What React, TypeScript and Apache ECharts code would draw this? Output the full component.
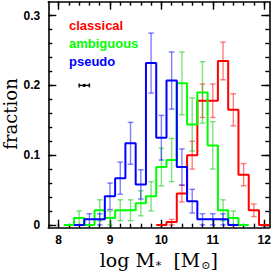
import React, { useEffect, useRef } from "react";
import * as echarts from "echarts";

// ---- data ----
const classicalBins = [10.0, 10.2, 10.4, 10.6, 10.8, 11.0, 11.2, 11.4, 11.6, 11.8, 12.0];
const classicalFrac = [0, 0.004, 0.045, 0.100, 0.178, 0.178, 0.235, 0.165, 0.072, 0.021, 0];
const classicalErr = [0, 0.004, 0.012, 0.020, 0.024, 0.024, 0.027, 0.023, 0.016, 0.009, 0];

const ambiguousBins = [8.2, 8.4, 8.6, 8.8, 9.0, 9.2, 9.4, 9.6, 9.8, 10.0, 10.2, 10.4, 10.6, 10.8, 11.0, 11.2, 11.4, 11.6];
const ambiguousFrac = [0, 0.010, 0, 0.021, 0.010, 0.021, 0.021, 0.031, 0.041, 0.083, 0.093, 0.203, 0.144, 0.190, 0.114, 0.021, 0.010, 0];
const ambiguousErr = [0, 0.010, 0, 0.015, 0.010, 0.015, 0.015, 0.018, 0.021, 0.027, 0.031, 0.045, 0.038, 0.044, 0.034, 0.015, 0.010, 0];

const pseudoBins = [8.4, 8.6, 8.8, 9.0, 9.2, 9.4, 9.6, 9.8, 10.0, 10.2, 10.4, 10.6, 10.8, 11.0, 11.2, 11.4];
const pseudoFrac = [0, 0.008, 0.008, 0.041, 0.067, 0.117, 0.058, 0.232, 0.125, 0.207, 0.083, 0.034, 0.008, 0.008, 0.008, 0];
const pseudoErr = [0, 0.008, 0.008, 0.019, 0.023, 0.030, 0.021, 0.043, 0.032, 0.041, 0.026, 0.017, 0.008, 0.008, 0.008, 0];

// typical mass uncertainty marker
const massErrX = [8.5];
const massErrY = [0.2];
const massErrDx = [0.1];

const legendLabels = ["classical", "ambiguous", "pseudo"];
const legendColors = ["#ff0000", "#00ff00", "#0000ff"];
const yTitle = "fraction";

const xMajorTicks = [8, 9, 10, 11, 12];
const xMinorTicks = [8.0, 8.2, 8.4, 8.6, 8.8, 9.0, 9.2, 9.4, 9.6, 9.8, 10.0, 10.2, 10.4, 10.6, 10.8, 11.0, 11.2, 11.4, 11.6, 11.8, 12.0];
const yMajorTicks = [0, 0.1, 0.2, 0.3];
const yMinorTicks = [0, 0.02, 0.04, 0.06, 0.08, 0.1, 0.12, 0.14, 0.16, 0.18, 0.2, 0.22, 0.24, 0.26, 0.28, 0.3];

const X_MIN = 7.8;
const X_MAX = 12.1;
const Y_MIN = -0.004;
const Y_MAX = 0.32;
const BIN_HALF = 0.1;

function stepData(centers: number[], vals: number[]) {
  const pts = centers.map((c, i) => [+(c - BIN_HALF).toFixed(3), vals[i]]);
  pts.push([+(centers[centers.length - 1] + BIN_HALF).toFixed(3), vals[vals.length - 1]]);
  return pts;
}

function stepSeries(centers: number[], vals: number[], color: string) {
  return {
    type: "line",
    xAxisIndex: 0,
    yAxisIndex: 0,
    step: "end",
    symbol: "none",
    data: stepData(centers, vals),
    lineStyle: { color, width: 2 },
    z: 5,
    silent: true,
  };
}

function errSeries(centers: number[], vals: number[], errs: number[], color: string) {
  return {
    type: "custom",
    xAxisIndex: 0,
    yAxisIndex: 0,
    data: centers.map((c, i) => [c, vals[i], errs[i]]),
    encode: { x: 0, y: 1 },
    z: 3,
    silent: true,
    renderItem: (params: any, api: any) => {
      const x = api.value(0);
      const y = api.value(1);
      const e = api.value(2);
      if (!e) return { type: "group", children: [] };
      const t = api.coord([x, y + e]);
      const b = api.coord([x, y - e]);
      const cw = 2.8;
      const st = { stroke: color, lineWidth: 1.4 };
      return {
        type: "group",
        children: [
          { type: "line", shape: { x1: t[0], y1: t[1], x2: b[0], y2: b[1] }, style: st },
          { type: "line", shape: { x1: t[0] - cw, y1: t[1], x2: t[0] + cw, y2: t[1] }, style: st },
          { type: "line", shape: { x1: b[0] - cw, y1: b[1], x2: b[0] + cw, y2: b[1] }, style: st },
        ],
      };
    },
  };
}

const GRID = { left: 48.3, top: 1.7, right: 3.7, bottom: 45.3, containLabel: false, outerBoundsMode: "none" };
const axisLineStyle = { color: "#000", width: 1.6 };
const tickStyle = { color: "#000", width: 1.4 };
const labelFont = { color: "#000", fontWeight: "bold" as const, fontSize: 12, fontFamily: "Liberation Sans" };

function xAxis(grid: number, pos: string, ticks: number[], len: number, labels: boolean, extra: any = {}) {
  return {
    type: "value",
    gridIndex: grid,
    position: pos,
    min: X_MIN,
    max: X_MAX,
    axisLine: { show: grid === 0, onZero: false, lineStyle: axisLineStyle },
    axisTick: { show: true, inside: true, length: len, customValues: ticks, lineStyle: tickStyle },
    axisLabel: labels ? { show: true, customValues: xMajorTicks, margin: 6, ...labelFont } : { show: false },
    splitLine: { show: false },
    ...extra,
  };
}

function yAxis(grid: number, pos: string, ticks: number[], len: number, labels: boolean, extra: any = {}) {
  return {
    type: "value",
    gridIndex: grid,
    position: pos,
    min: Y_MIN,
    max: Y_MAX,
    axisLine: { show: grid === 0, onZero: false, lineStyle: axisLineStyle },
    axisTick: { show: true, inside: true, length: len, customValues: ticks, lineStyle: tickStyle },
    axisLabel: labels ? { show: true, customValues: yMajorTicks, margin: 8, ...labelFont } : { show: false },
    splitLine: { show: false },
    ...extra,
  };
}

export default function App() {
  const ref = useRef<HTMLDivElement>(null);
  useEffect(() => {
    if (!ref.current) return;
    const chart = echarts.init(ref.current, undefined, { renderer: "svg" });
    const option: any = {
      animation: false,
      backgroundColor: "#fff",
      grid: [{ ...GRID }, { ...GRID }],
      xAxis: [
        xAxis(0, "bottom", xMajorTicks, 8, true, {
          name: "log M{s|*}  [M{s|⊙}]",
          nameLocation: "middle",
          nameGap: 19,
          nameTextStyle: {
            fontFamily: "DejaVu Serif",
            fontSize: 19,
            color: "#000",
            verticalAlign: "top",
            rich: {
              s: { fontFamily: "DejaVu Serif", fontSize: 11, color: "#000", verticalAlign: "top", padding: [11, 0, 0, 1] },
            },
          },
        }),
        xAxis(0, "top", xMajorTicks, 8, false),
        xAxis(1, "bottom", xMinorTicks, 4, false),
        xAxis(1, "top", xMinorTicks, 4, false),
      ],
      yAxis: [
        yAxis(0, "left", yMajorTicks, 8, true),
        yAxis(0, "right", yMajorTicks, 8, false),
        yAxis(1, "left", yMinorTicks, 4, false),
        yAxis(1, "right", yMinorTicks, 4, false),
      ],
      series: [
        errSeries(classicalBins, classicalFrac, classicalErr, "rgba(255,0,0,0.5)"),
        errSeries(ambiguousBins, ambiguousFrac, ambiguousErr, "rgba(0,200,0,0.5)"),
        errSeries(pseudoBins, pseudoFrac, pseudoErr, "rgba(0,0,255,0.5)"),
        stepSeries(classicalBins, classicalFrac, "#ff0000"),
        stepSeries(ambiguousBins, ambiguousFrac, "#00ff00"),
        stepSeries(pseudoBins, pseudoFrac, "#0000ff"),
        {
          type: "custom",
          xAxisIndex: 0,
          yAxisIndex: 0,
          data: massErrX.map((x, i) => [x, massErrY[i], massErrDx[i]]),
          encode: { x: 0, y: 1 },
          z: 6,
          silent: true,
          renderItem: (params: any, api: any) => {
            const x = api.value(0);
            const y = api.value(1);
            const d = api.value(2);
            const l = api.coord([x - d, y]);
            const r = api.coord([x + d, y]);
            const c = api.coord([x, y]);
            const ch = 2;
            const st = { stroke: "#000", lineWidth: 1.4 };
            return {
              type: "group",
              children: [
                { type: "line", shape: { x1: l[0], y1: l[1], x2: r[0], y2: r[1] }, style: st },
                { type: "line", shape: { x1: l[0], y1: l[1] - ch, x2: l[0], y2: l[1] + ch }, style: st },
                { type: "line", shape: { x1: r[0], y1: r[1] - ch, x2: r[0], y2: r[1] + ch }, style: st },
                { type: "circle", shape: { cx: c[0], cy: c[1], r: 1.6 }, style: { fill: "#000" } },
              ],
            };
          },
        },
      ],
      graphic: [
        ...legendLabels.map((t, i) => ({
          type: "text",
          x: 69,
          y: 25 + i * 18.3,
          style: {
            text: t,
            fill: legendColors[i],
            font: 'bold 13px "Liberation Sans"',
            verticalAlign: "middle",
            align: "left",
          },
        })),
        {
          type: "text",
          x: 10,
          y: 114,
          rotation: Math.PI / 2,
          style: {
            text: yTitle,
            fill: "#000",
            font: '18px "DejaVu Serif"',
            align: "center",
            verticalAlign: "middle",
          },
        },
      ],
    };
    chart.setOption(option);
    return () => chart.dispose();
  }, []);
  return (
    <div
      ref={ref}
      style={{ position: "fixed", left: 0, top: 0, width: 273, height: 273, background: "#fff" }}
    />
  );
}
